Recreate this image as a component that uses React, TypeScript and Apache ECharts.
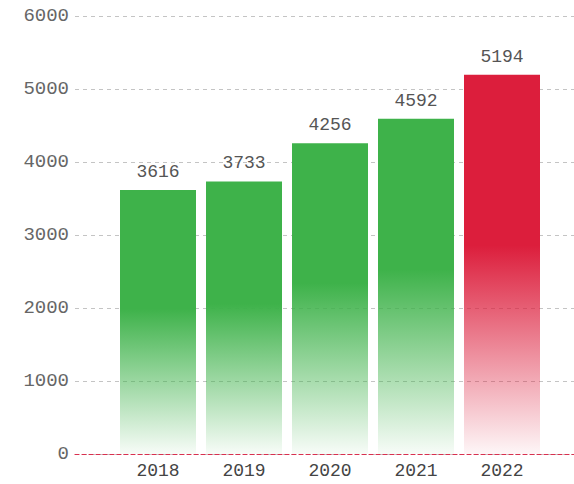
import React, { useEffect, useRef } from "react";
import * as echarts from "echarts";

const categories = ["2018", "2019", "2020", "2021", "2022"];
const values = [3616, 3733, 4256, 4592, 5194];
const highlightIndex = 4;

const FONT = "'Liberation Mono', 'DejaVu Sans Mono', monospace";

function grad(rgb: string) {
  return new echarts.graphic.LinearGradient(0, 0, 0, 1, [
    { offset: 0, color: `rgba(${rgb},1)` },
    { offset: 0.45, color: `rgba(${rgb},1)` },
    { offset: 1, color: `rgba(${rgb},0.04)` },
  ]);
}

export default function App() {
  const ref = useRef<HTMLDivElement>(null);
  useEffect(() => {
    const chart = echarts.init(ref.current!, null, { renderer: "svg" });
    chart.setOption({
      animation: false,
      backgroundColor: "#ffffff",
      grid: [
        { left: 75, right: 0, top: 16, bottom: 30 },
        { left: 115, right: 29, top: 16, bottom: 30 },
      ],
      xAxis: [
        {
          gridIndex: 0,
          type: "value",
          min: 0,
          max: 1,
          axisLabel: { show: false },
          axisTick: { show: false },
          splitLine: { show: false },
          axisLine: {
            show: true,
            lineStyle: { color: "#d9304f", type: [4, 3], width: 1.2 },
          },
          z: 10,
        },
        {
          gridIndex: 1,
          type: "category",
          data: categories,
          axisLine: { show: false },
          axisTick: { show: false },
          axisLabel: {
            color: "#444",
            fontSize: 18,
            fontFamily: FONT,
            margin: 8,
          },
        },
      ],
      yAxis: [
        {
          gridIndex: 0,
          type: "value",
          min: 0,
          max: 6000,
          interval: 1000,
          axisLine: { show: false },
          axisTick: { show: false },
          axisLabel: {
            color: "#666",
            fontSize: 19,
            fontFamily: FONT,
            margin: 6,
            formatter: (v: number) => String(v),
          },
          splitLine: {
            show: true,
            lineStyle: { color: "#c4c4c4", type: [4, 4], width: 1 },
          },
        },
        {
          gridIndex: 1,
          type: "value",
          min: 0,
          max: 6000,
          interval: 1000,
          show: false,
          splitLine: { show: false },
        },
      ],
      series: [
        {
          type: "bar",
          xAxisIndex: 1,
          yAxisIndex: 1,
          barWidth: 76,
          data: values.map((v, i) => ({
            value: v,
            itemStyle: {
              color: i === highlightIndex ? grad("220,30,60") : grad("62,178,74"),
            },
          })),
          label: {
            show: true,
            position: "top",
            distance: 9,
            color: "#555",
            fontSize: 18,
            fontFamily: FONT,
          },
        },
      ],
    });
    return () => chart.dispose();
  }, []);
  return (
    <div
      ref={ref}
      style={{ position: "absolute", left: 0, top: 0, width: 574, height: 484 }}
    />
  );
}
